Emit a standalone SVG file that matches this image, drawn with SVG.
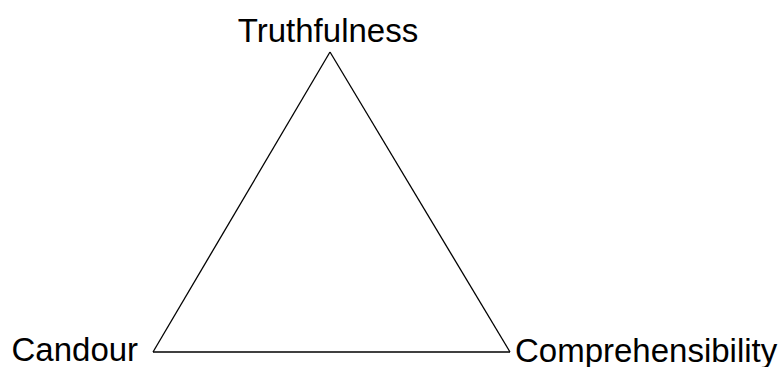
<svg xmlns="http://www.w3.org/2000/svg" width="782" height="367" viewBox="0 0 782 367">
<style>
text{font-family:"Liberation Sans",Arial,sans-serif;font-size:33px;fill:#000}
.edge{fill:none;stroke:#000;stroke-width:1.3}
</style>
<rect width="782" height="367" fill="#fff"/>
<g id="connectors">
<path class="edge" d="M330,52 L153,352"/>
<path class="edge" d="M153,352 L510,352"/>
<path class="edge" d="M510,352 L330,52"/>
</g>
<g id="truthfulness"><text x="328" y="42" text-anchor="middle">Truthfulness</text></g>
<g id="candour"><text x="11.5" y="360.5">Candour</text></g>
<g id="comprehensibility"><text x="515" y="361.5">Comprehensibility</text></g>
</svg>
